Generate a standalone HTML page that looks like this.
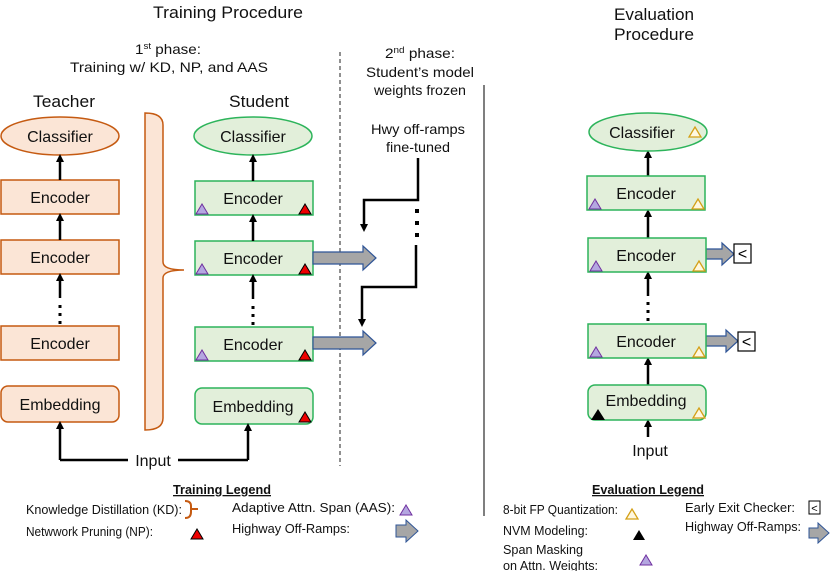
<!DOCTYPE html>
<html><head><meta charset="utf-8"><style>
html,body{margin:0;padding:0;background:#fff;}
svg{display:block;font-family:"Liberation Sans",Arial,sans-serif;}
</style></head><body>
<svg width="830" height="571" viewBox="0 0 830 571" xmlns="http://www.w3.org/2000/svg">
<defs>
<marker id="ah" markerWidth="8" markerHeight="8" refX="4" refY="4" orient="auto" markerUnits="userSpaceOnUse">
<path d="M0,0 L8,4 L0,8 z" fill="#000"/></marker>
</defs>
<g font-size="17" fill="#111" text-anchor="middle">
<text x="228" y="18" textLength="150" lengthAdjust="spacingAndGlyphs">Training Procedure</text>
<text x="654" y="20" textLength="80" lengthAdjust="spacingAndGlyphs">Evaluation</text>
<text x="654" y="40" textLength="80" lengthAdjust="spacingAndGlyphs">Procedure</text>
<text x="64" y="107" textLength="62" lengthAdjust="spacingAndGlyphs">Teacher</text>
<text x="259" y="107" textLength="60" lengthAdjust="spacingAndGlyphs">Student</text>
</g>
<g font-size="14" fill="#111" text-anchor="middle">
<text x="168" y="54" textLength="66" lengthAdjust="spacingAndGlyphs">1<tspan font-size="9" dy="-5">st</tspan><tspan dy="5"> phase:</tspan></text>
<text x="169" y="72" textLength="198" lengthAdjust="spacingAndGlyphs">Training w/ KD, NP, and AAS</text>
<text x="420" y="58" textLength="70" lengthAdjust="spacingAndGlyphs">2<tspan font-size="9" dy="-5">nd</tspan><tspan dy="5"> phase:</tspan></text>
<text x="420" y="77" textLength="108" lengthAdjust="spacingAndGlyphs">Student’s model</text>
<text x="420" y="95" textLength="92" lengthAdjust="spacingAndGlyphs">weights frozen</text>
<text x="418" y="134" textLength="94" lengthAdjust="spacingAndGlyphs">Hwy off-ramps</text>
<text x="418" y="152" textLength="64" lengthAdjust="spacingAndGlyphs">fine-tuned</text>
</g>
<line x1="340" y1="52" x2="340" y2="466" stroke="#222" stroke-width="1" stroke-dasharray="4,3"/>
<line x1="484" y1="85" x2="484" y2="516" stroke="#555" stroke-width="1.5"/>

<g stroke="#c55a11" stroke-width="1.5" fill="#fbe5d6">
<ellipse cx="60" cy="136" rx="59" ry="19"/>
<rect x="1" y="180" width="118" height="34"/>
<rect x="1" y="240" width="118" height="34"/>
<rect x="1" y="326" width="118" height="34"/>
<rect x="1" y="386" width="118" height="36" rx="7"/>
<path d="M145,113 Q163,113 163,125 L163,262 Q163,270 184,270 Q163,270 163,278 L163,418 Q163,430 145,430 Z"/>
</g>
<g font-size="16" fill="#111" text-anchor="middle">
<text x="60" y="142">Classifier</text>
<text x="60" y="203">Encoder</text>
<text x="60" y="263">Encoder</text>
<text x="60" y="349">Encoder</text>
<text x="60" y="410">Embedding</text>
</g>
<g stroke="#2db45b" stroke-width="1.5" fill="#e2efda">
<ellipse cx="253" cy="136" rx="59" ry="19"/>
<rect x="195" y="181" width="118" height="34"/>
<rect x="195" y="241" width="118" height="34"/>
<rect x="195" y="327" width="118" height="34"/>
<rect x="195" y="388" width="118" height="36" rx="7"/>
</g>
<g font-size="16" fill="#111" text-anchor="middle">
<text x="253" y="142">Classifier</text>
<text x="253" y="204">Encoder</text>
<text x="253" y="264">Encoder</text>
<text x="253" y="350">Encoder</text>
<text x="253" y="412">Embedding</text>
</g>
<g stroke="#7030a0" stroke-width="1" fill="#b4a7e0">
<path d="M196,214 L208,214 L202,204 Z"/><path d="M196,274 L208,274 L202,264 Z"/><path d="M196,360 L208,360 L202,350 Z"/>
</g>
<g stroke="#000" stroke-width="1" fill="#e00">
<path d="M299,214 L311,214 L305,204 Z"/><path d="M299,274 L311,274 L305,264 Z"/><path d="M299,360 L311,360 L305,350 Z"/><path d="M299,422 L311,422 L305,412 Z"/>
</g>
<g stroke="#000" stroke-width="2.5" marker-end="url(#ah)">
<line x1="60" y1="180" x2="60" y2="158"/>
<line x1="60" y1="240" x2="60" y2="217"/>
<line x1="60" y1="298" x2="60" y2="277"/>
<line x1="60" y1="460" x2="60" y2="425"/>
<line x1="253" y1="181" x2="253" y2="158"/>
<line x1="253" y1="241" x2="253" y2="218"/>
<line x1="253" y1="299" x2="253" y2="278"/>
<line x1="248" y1="460" x2="248" y2="427"/>
<line x1="648" y1="176" x2="648" y2="154"/>
<line x1="648" y1="238" x2="648" y2="213"/>
<line x1="648" y1="296" x2="648" y2="275"/>
<line x1="648" y1="385" x2="648" y2="361"/>
<line x1="648" y1="437" x2="648" y2="423"/>
</g>
<g stroke="#000" stroke-width="2.5" fill="none">
<polyline points="60,460 128,460"/><polyline points="178,460 248,460"/>
</g>
<g fill="#000">
<rect x="58.5" y="305" width="3" height="3"/><rect x="58.5" y="313" width="3" height="3"/><rect x="58.5" y="321" width="3" height="3"/>
<rect x="251.5" y="306" width="3" height="3"/><rect x="251.5" y="314" width="3" height="3"/><rect x="251.5" y="322" width="3" height="3"/>
<rect x="646.5" y="302" width="3" height="3"/><rect x="646.5" y="310" width="3" height="3"/><rect x="646.5" y="318" width="3" height="3"/>
<rect x="415" y="209" width="4" height="4"/><rect x="415" y="221" width="4" height="4"/><rect x="415" y="233" width="4" height="4"/>
</g>
<text x="153" y="466" font-size="16" text-anchor="middle" fill="#111">Input</text>
<g stroke="#000" stroke-width="2.5" fill="none">
<polyline points="418,158 418,200 364,200 364,225"/>
<polyline points="416,245 416,287 362,287 362,320"/>
</g>
<path d="M360,224 L368,224 L364,232 Z M358,319 L366,319 L362,327 Z" fill="#000"/>
<g fill="#a6a6a6" stroke="#2f5597" stroke-width="1.2">
<path d="M313,252 L363,252 L363,246 L376,258 L363,270 L363,264 L313,264 Z"/>
<path d="M313,337 L363,337 L363,331 L376,343 L363,355 L363,349 L313,349 Z"/>
<path d="M706,249 L722,249 L722,243 L734,254 L722,265 L722,259 L706,259 Z"/>
<path d="M706,336 L726,336 L726,330 L738,341 L726,352 L726,346 L706,346 Z"/>
</g>
<g stroke="#2db45b" stroke-width="1.5" fill="#e2efda">
<ellipse cx="648" cy="132" rx="59" ry="19"/>
<rect x="587" y="176" width="118" height="34"/>
<rect x="588" y="238" width="118" height="34"/>
<rect x="588" y="324" width="118" height="34"/>
<rect x="588" y="385" width="118" height="35" rx="7"/>
</g>
<g font-size="16" fill="#111" text-anchor="middle">
<text x="642" y="138">Classifier</text>
<text x="646" y="199">Encoder</text>
<text x="646" y="261">Encoder</text>
<text x="646" y="347">Encoder</text>
<text x="646" y="406">Embedding</text>
<text x="650" y="456">Input</text>
</g>
<g stroke="#7030a0" stroke-width="1" fill="#b4a7e0">
<path d="M589,209 L601,209 L595,199 Z"/><path d="M590,271 L602,271 L596,261 Z"/><path d="M590,357 L602,357 L596,347 Z"/>
</g>
<g stroke="#d4a017" stroke-width="1.3" fill="#fff8e0">
<path d="M689,137 L701,137 L695,127 Z"/><path d="M692,209 L704,209 L698,199 Z"/><path d="M693,271 L705,271 L699,261 Z"/><path d="M693,357 L705,357 L699,347 Z"/><path d="M693,418 L705,418 L699,408 Z"/>
</g>
<path d="M591,420 L605,420 L598,409 Z" fill="#000"/>
<g stroke="#000" stroke-width="1.2" fill="#fff">
<rect x="734" y="244" width="17" height="19"/><rect x="738" y="332" width="17" height="19"/>
</g>
<g font-size="16" text-anchor="middle" fill="#000"><text x="742.5" y="259">&lt;</text><text x="746.5" y="347">&lt;</text></g>

<g font-size="13" fill="#111">
<text x="222" y="494" text-anchor="middle" font-weight="bold" text-decoration="underline" textLength="98" lengthAdjust="spacingAndGlyphs">Training Legend</text>
<text x="26" y="514" textLength="156" lengthAdjust="spacingAndGlyphs">Knowledge Distillation (KD):</text>
<text x="26" y="536" textLength="127" lengthAdjust="spacingAndGlyphs">Netwwork Pruning (NP):</text>
<text x="232" y="512" textLength="163" lengthAdjust="spacingAndGlyphs">Adaptive Attn. Span (AAS):</text>
<text x="232" y="533" textLength="118" lengthAdjust="spacingAndGlyphs">Highway Off-Ramps:</text>
<text x="648" y="494" text-anchor="middle" font-weight="bold" text-decoration="underline" textLength="112" lengthAdjust="spacingAndGlyphs">Evaluation Legend</text>
<text x="503" y="514" textLength="115" lengthAdjust="spacingAndGlyphs">8-bit  FP Quantization:</text>
<text x="503" y="535" textLength="85" lengthAdjust="spacingAndGlyphs">NVM Modeling:</text>
<text x="503" y="554" textLength="80" lengthAdjust="spacingAndGlyphs">Span Masking</text>
<text x="503" y="570" textLength="95" lengthAdjust="spacingAndGlyphs">on Attn. Weights:</text>
<text x="685" y="512" textLength="110" lengthAdjust="spacingAndGlyphs">Early Exit Checker:</text>
<text x="685" y="531" textLength="116" lengthAdjust="spacingAndGlyphs">Highway Off-Ramps:</text>
</g>
<path d="M185,501 Q191,501 191,506 L191,509 L198,509 L191,509 L191,512 Q191,518 185,518" fill="none" stroke="#c55a11" stroke-width="2"/>
<path d="M191,539 L203,539 L197,529 Z" fill="#e00" stroke="#000" stroke-width="1"/>
<path d="M400,515 L412,515 L406,505 Z" fill="#b4a7e0" stroke="#7030a0" stroke-width="1"/>
<path d="M396,525 L406,525 L406,520 L418,531 L406,542 L406,537 L396,537 Z" fill="#a6a6a6" stroke="#2f5597" stroke-width="1"/>
<path d="M626,519 L638,519 L632,509 Z" fill="#fff8e0" stroke="#d4a017" stroke-width="1.3"/>
<path d="M633,540 L645,540 L639,530 Z" fill="#000"/>
<path d="M640,565 L652,565 L646,555 Z" fill="#b4a7e0" stroke="#7030a0" stroke-width="1"/>
<rect x="809" y="501" width="11" height="13" fill="#fff" stroke="#000" stroke-width="1"/>
<text x="814.5" y="512" font-size="11" text-anchor="middle">&lt;</text>
<path d="M809,528 L818,528 L818,523 L829,533 L818,543 L818,538 L809,538 Z" fill="#a6a6a6" stroke="#2f5597" stroke-width="1"/>
</svg>
</body></html>
